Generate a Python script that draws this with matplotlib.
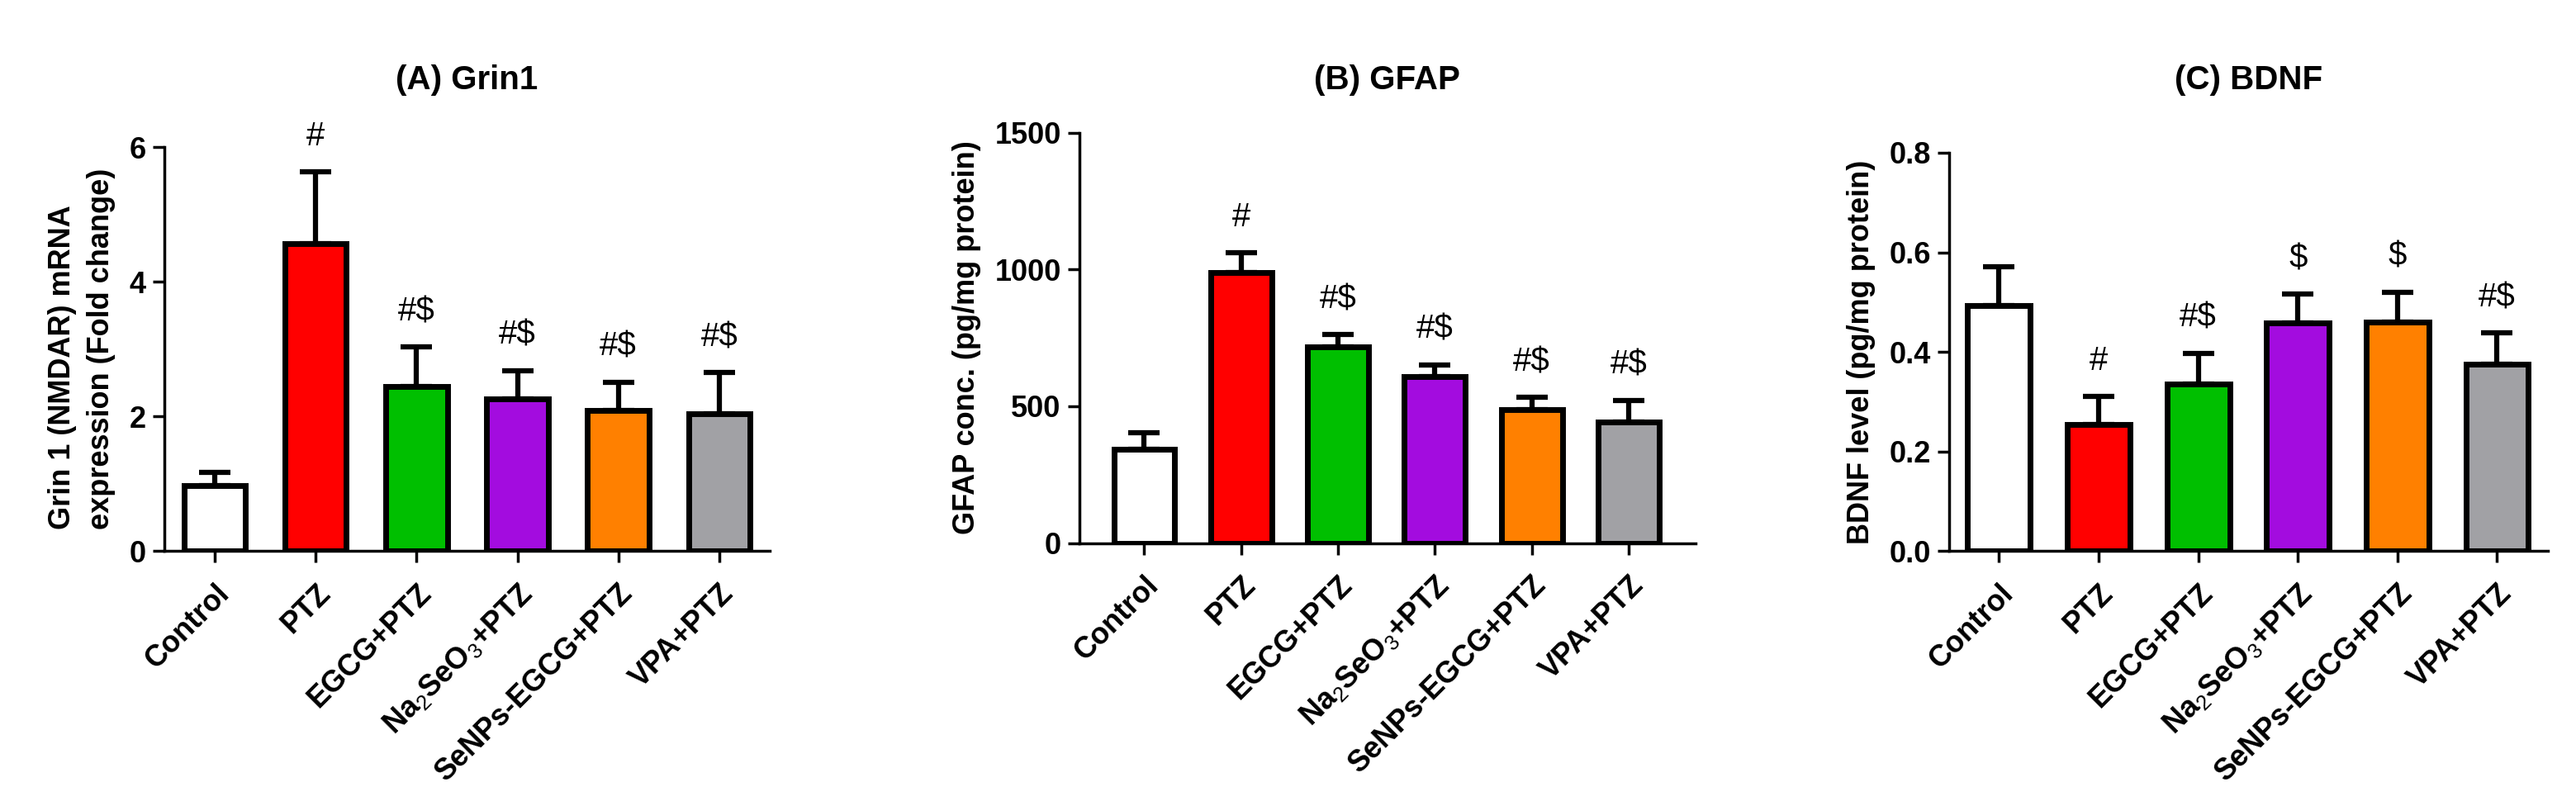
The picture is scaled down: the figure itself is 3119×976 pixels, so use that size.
import matplotlib
matplotlib.use("Agg")
import matplotlib.pyplot as plt
import matplotlib.transforms as mtransforms
import numpy as np

plt.rcParams['font.family'] = ['Liberation Sans', 'DejaVu Sans']
plt.rcParams['mathtext.fontset'] = 'custom'
plt.rcParams['mathtext.rm'] = 'Liberation Sans'
plt.rcParams['mathtext.it'] = 'Liberation Sans'
plt.rcParams['mathtext.bf'] = 'Liberation Sans:bold'

# groups and colours
groups = ['Control', 'PTZ', 'EGCG+PTZ', 'Na$_2$SeO$_3$+PTZ', 'SeNPs-EGCG+PTZ', 'VPA+PTZ']
colors = ['#FFFFFF', '#FF0000', '#00BF00', '#A30CDF', '#FF8000', '#A1A1A5']

# (A) Grin1
grin1_mean = [0.98, 4.57, 2.45, 2.26, 2.09, 2.04]
grin1_sem = [0.19, 1.06, 0.58, 0.42, 0.42, 0.61]
grin1_sig = ['', '#', '#$', '#$', '#$', '#$']

# (B) GFAP
gfap_mean = [343, 989, 717, 608, 489, 441]
gfap_sem = [61, 71, 45, 43, 43, 80]
gfap_sig = ['', '#', '#$', '#$', '#$', '#$']

# (C) BDNF
bdnf_mean = [0.493, 0.254, 0.335, 0.458, 0.460, 0.375]
bdnf_sem = [0.078, 0.057, 0.062, 0.058, 0.060, 0.063]
bdnf_sig = ['', '#', '#$', '$', '$', '#$']

fig = plt.figure(figsize=(31.19, 9.76), dpi=100)
# nudge rotated x labels a bit to the right, like the original
shift = mtransforms.ScaledTranslation(6 / 72, 0, fig.dpi_scale_trans)


def bar_panel(rect, mean, sem, sig, title, ylabel, ylim, yticks, xlim, width):
    ax = fig.add_axes(rect)
    x = np.arange(len(groups))
    ax.bar(x, mean, width=width, color=colors, edgecolor='black', linewidth=5, zorder=2)
    ax.errorbar(x, mean, yerr=[np.zeros(len(sem)), sem], fmt='none', ecolor='black',
                elinewidth=4.5, capsize=14, capthick=4.5, zorder=1)
    for xi, m, s, t in zip(x, mean, sem, sig):
        if t:
            ax.annotate(t, (xi, m + s), xytext=(0, 31), textcoords='offset points',
                        ha='center', va='center', fontsize=29)
    ax.set_xlim(*xlim)
    ax.set_ylim(*ylim)
    ax.set_yticks(yticks)
    ax.set_xticks(x)
    ax.set_xticklabels(groups, rotation=45, ha='right', va='top', rotation_mode='anchor',
                       fontsize=26, fontweight='bold')
    for lab in ax.get_xticklabels():
        lab.set_transform(lab.get_transform() + shift)
    for lab in ax.get_yticklabels():
        lab.set_fontweight('bold')
    ax.tick_params(axis='both', width=2.5, length=10, labelsize=26, pad=6)
    ax.tick_params(axis='x', pad=14)
    ax.spines['top'].set_visible(False)
    ax.spines['right'].set_visible(False)
    ax.spines['left'].set_linewidth(2.5)
    ax.spines['bottom'].set_linewidth(2.5)
    ax.set_ylabel(ylabel, fontsize=26, fontweight='bold', labelpad=12,
                  linespacing=1.45, multialignment='left')
    pos = ax.get_position()
    fig.text((pos.x0 + pos.x1) / 2, 1 - 97 / 976, title, ha='center', va='center',
             fontsize=29, fontweight='bold')
    return ax


bar_panel([0.0638, 0.3161, 0.2350, 0.5015], grin1_mean, grin1_sem, grin1_sig,
          '(A) Grin1', 'Grin 1 (NMDAR) mRNA\nexpression (Fold change)',
          (0, 6), [0, 2, 4, 6], (-0.5, 5.5), 0.61)
bar_panel([0.4190, 0.3263, 0.2392, 0.5092], gfap_mean, gfap_sem, gfap_sig,
          '(B) GFAP', 'GFAP conc. (pg/mg protein)',
          (0, 1500), [0, 500, 1000, 1500], (-0.67, 5.69), 0.63)
bar_panel([0.7567, 0.3161, 0.2324, 0.4944], bdnf_mean, bdnf_sem, bdnf_sig,
          '(C) BDNF', 'BDNF level (pg/mg protein)',
          (0, 0.8), [0.0, 0.2, 0.4, 0.6, 0.8], (-0.5, 5.51), 0.63)

fig.savefig('out.png', dpi=100)
